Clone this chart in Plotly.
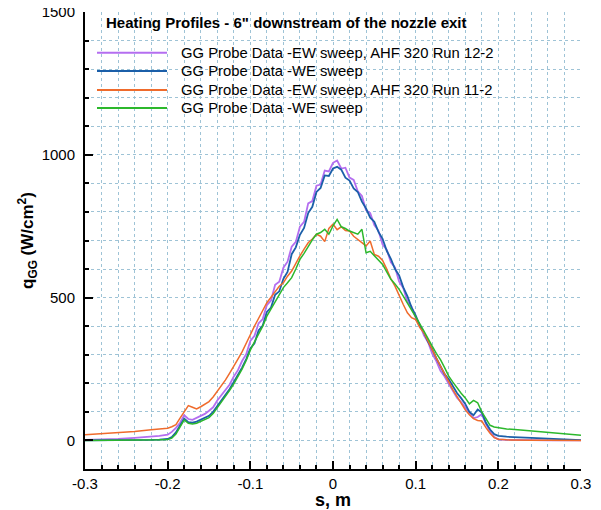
import plotly.graph_objects as go

# ---------------- data ----------------
S_LEFT = [-0.30, -0.28, -0.26, -0.24, -0.22, -0.21]
S_CORE = [
    -0.200, -0.195, -0.190, -0.185, -0.180, -0.175, -0.170, -0.165, -0.160, -0.155,
    -0.150, -0.145, -0.140, -0.135, -0.130, -0.125, -0.120, -0.115, -0.110, -0.105,
    -0.100, -0.095, -0.090, -0.085, -0.080, -0.075, -0.070, -0.065, -0.060, -0.055,
    -0.050, -0.045, -0.040, -0.035, -0.030, -0.025, -0.020, -0.015, -0.010, -0.005,
    0.000, 0.005, 0.010, 0.015, 0.020, 0.025, 0.030, 0.035, 0.040, 0.045,
    0.050, 0.055, 0.060, 0.065, 0.070, 0.075, 0.080, 0.085, 0.090, 0.095,
    0.100, 0.105, 0.110, 0.115, 0.120, 0.125, 0.130, 0.135, 0.140, 0.145,
    0.150, 0.155, 0.160, 0.165, 0.170, 0.175, 0.180, 0.185, 0.190, 0.195,
    0.200,
]
S_RIGHT = [0.21, 0.22, 0.24, 0.26, 0.28, 0.30]
S = S_LEFT + S_CORE + S_RIGHT

EW_12_2 = [2, 3, 5, 9, 13, 16,
           20, 30, 44, 62, 88, 75, 72, 79, 85, 93,
           104, 116, 140, 158, 180, 196, 224, 246, 278, 302,
           348, 366, 410, 425, 474, 490, 545, 556, 605, 626,
           678, 695, 748, 765, 830, 838, 892, 896, 945, 942,
           972, 980, 952, 955, 920, 912, 872, 856, 806, 796,
           754, 734, 686, 668, 624, 606, 556, 534, 486, 468,
           430, 405, 368, 344, 304, 278, 244, 224, 198, 176,
           150, 134, 116, 96, 78, 82, 92, 58, 30, 12,
           4,
           2, 1, 1, 0, 0, 0]

WE_12_2 = [0, 0, 1, 1, 2, 3,
           5, 12, 28, 52, 76, 64, 62, 66, 72, 78,
           86, 100, 120, 140, 160, 180, 205, 228, 255, 285,
           322, 340, 385, 402, 450, 465, 510, 522, 566, 590,
           652, 676, 720, 744, 796, 818, 870, 884, 928, 926,
           952, 958, 948, 920, 910, 882, 870, 836, 812, 780,
           766, 730, 706, 664, 636, 600, 578, 536, 505, 466,
           438, 402, 378, 345, 320, 288, 260, 232, 214, 188,
           166, 148, 128, 100, 88, 108, 98, 62, 38, 22,
           16,
           13, 11, 9, 6, 3, 1]

EW_11_2 = [20, 23, 26, 31, 37, 40,
           43, 48, 55, 78, 100, 122, 116, 110, 118, 128,
           136, 152, 172, 190, 212, 236, 259, 285, 310, 338,
           370, 400, 425, 455, 482, 500, 522, 540, 552, 575,
           593, 622, 646, 670, 692, 705, 722, 715, 696, 742,
           757, 738, 748, 735, 733, 715, 704, 690, 681, 698,
           651, 645, 630, 600, 566, 540, 505, 476, 447, 430,
           423, 395, 377, 345, 318, 288, 260, 230, 201, 178,
           154, 130, 107, 90, 76, 70, 68, 45, 25, 10,
           4,
           2, 1, 1, 1, 0, 0]

WE_11_2 = [0, 0, 1, 1, 2, 2,
           3, 8, 22, 48, 72, 60, 58, 60, 66, 72,
           80, 94, 114, 132, 152, 175, 198, 222, 250, 280,
           316, 345, 372, 400, 435, 460, 485, 505, 535, 552,
           570, 600, 634, 655, 681, 702, 722, 728, 739, 722,
           751, 774, 748, 742, 733, 728, 722, 739, 657, 662,
           646, 630, 616, 590, 564, 548, 529, 505, 482, 458,
           435, 408, 383, 355, 330, 305, 283, 255, 225, 204,
           184, 165, 149, 128, 140, 132, 100, 75, 53, 47,
           44,
           40, 38, 33, 27, 23, 18]

NAMES = ["GG Probe Data -EW sweep, AHF 320 Run 12-2",
         "GG Probe Data -WE sweep",
         "GG Probe Data -EW sweep, AHF 320 Run 11-2",
         "GG Probe Data -WE sweep"]
COLORS = ["#b46ef0", "#1b5fa9", "#ef6b2c", "#2cb82c"]
WIDTHS = [1.8, 1.8, 1.5, 1.5]
SERIES = [EW_12_2, WE_12_2, EW_11_2, WE_11_2]
TITLE = 'Heating Profiles - 6" downstream of the nozzle exit'
X_TITLE = "<b>s, m</b>"
Y_TITLE = "<b>q<sub>GG</sub> (W/cm<sup>2</sup>)</b>"

X_TICKS = [-0.3, -0.2, -0.1, 0.0, 0.1, 0.2, 0.3]
X_TICK_LABELS = ["-0.3", "-0.2", "-0.1", "0", "0.1", "0.2", "0.3"]
Y_TICKS = [0, 500, 1000, 1500]
Y_TICK_LABELS = ["0", "500", "1000", "1500"]

FONT = "Liberation Sans, Arial, sans-serif"
GRID = "#9ec3d6"

fig = go.Figure()
for name, col, w, ys in zip(NAMES, COLORS, WIDTHS, SERIES):
    fig.add_trace(go.Scatter(x=S, y=ys, mode="lines", name=name,
                             line=dict(color=col, width=w), showlegend=False))

# page has an 8px body margin: figure is 593x502 placed at (8, 8) of the 601x510 window.
OFF = 8
W, H = 601 - OFF, 510 - OFF
# plot area in window pixels: x 85..581, y 12..469
L, R, T, B = 85 - OFF, 601 - 581, 12 - OFF, 510 - 469
PW, PH = 581 - 85, 469 - 12
def px(x): return (x - 85) / PW
def py(y): return (469 - y) / PH

shapes = []
annotations = [
    dict(text="<b>" + TITLE + "</b>", x=px(104), y=py(23), xref="paper", yref="paper",
         xanchor="left", yanchor="middle", showarrow=False,
         font=dict(family=FONT, size=15, color="black")),
    dict(text=X_TITLE, x=0.5, y=py(500), xref="paper", yref="paper",
         xanchor="center", yanchor="middle", showarrow=False,
         font=dict(family=FONT, size=18, color="black")),
    dict(text=Y_TITLE, x=px(27), y=py(241), xref="paper", yref="paper", textangle=-90,
         xanchor="center", yanchor="middle", showarrow=False,
         font=dict(family=FONT, size=17, color="black")),
]
rows = [52.7, 71, 90, 108]
for name, col, ry in zip(NAMES, COLORS, rows):
    shapes.append(dict(type="line", xref="paper", yref="paper", x0=px(97), x1=px(167),
                       y0=py(ry), y1=py(ry), line=dict(color=col, width=2)))
    annotations.append(dict(text=name, x=px(179), y=py(ry), xref="paper", yref="paper",
                            xanchor="left", yanchor="middle", showarrow=False,
                            font=dict(family=FONT, size=14.8, color="black")))

fig.update_layout(
    width=W, height=H,
    margin=dict(l=L, r=R, t=T, b=B),
    paper_bgcolor="white", plot_bgcolor="white",
    font=dict(family=FONT, size=15, color="black"),
    shapes=shapes, annotations=annotations,
)
fig.update_xaxes(
    range=[-0.3, 0.3], tickmode="array", tickvals=X_TICKS, ticktext=X_TICK_LABELS,
    automargin=False, ticklabeloverflow="allow",
    showgrid=True, gridcolor=GRID, griddash="dot", gridwidth=1,
    zeroline=False, showline=True, linecolor="black", linewidth=2,
    ticks="inside", ticklen=8, tickcolor="black", tickwidth=1.5,
    minor=dict(dtick=0.02, tick0=0, showgrid=True, gridcolor=GRID, griddash="dot",
               ticks="inside", ticklen=4, tickcolor="black"),
    tickfont=dict(size=15),
)
fig.update_yaxes(
    range=[-100, 1500], tickmode="array", tickvals=Y_TICKS, ticktext=Y_TICK_LABELS,
    automargin=False, ticklabeloverflow="allow",
    showgrid=True, gridcolor=GRID, griddash="dot", gridwidth=1,
    zeroline=False, showline=True, linecolor="black", linewidth=2,
    ticks="inside", ticklen=8, tickcolor="black", tickwidth=1.5,
    minor=dict(dtick=100, tick0=0, showgrid=True, gridcolor=GRID, griddash="dot",
               ticks="inside", ticklen=4, tickcolor="black"),
    tickfont=dict(size=15), ticklabelstandoff=5,
)

fig.write_html("out.html")
